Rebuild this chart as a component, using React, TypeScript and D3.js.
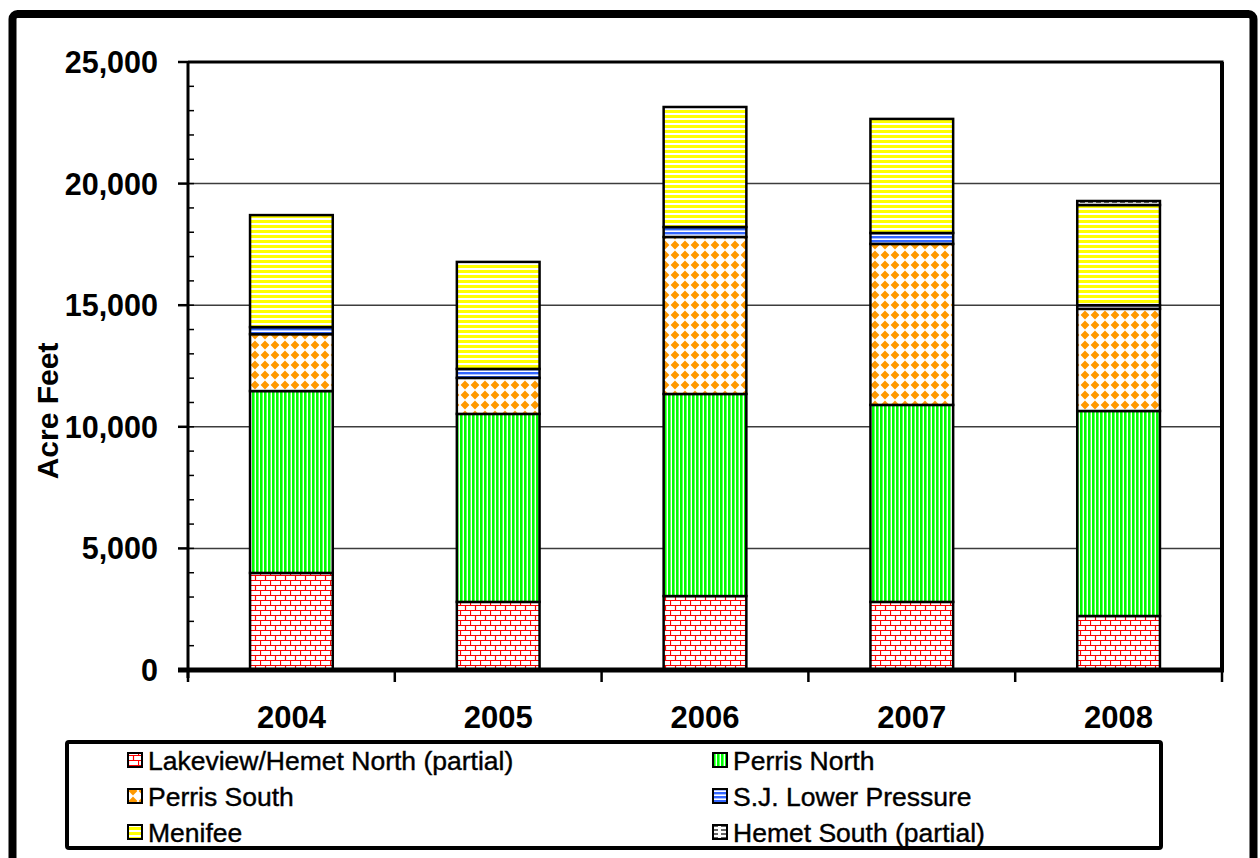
import { useEffect, useRef } from "react";
import * as d3 from "d3";

const years = ["2004", "2005", "2006", "2007", "2008"];
const lakeview = [3990, 2800, 3040, 2800, 2220];
const perrisNorth = [7480, 7730, 8310, 8100, 8430];
const perrisSouth = [2340, 1480, 6455, 6620, 4200];
const sjLower = [290, 370, 410, 450, 150];
const menifee = [4605, 4400, 4935, 4690, 4120];
const hemetSouth = [0, 0, 0, 0, 165];

const seriesNames = [
  "Lakeview/Hemet North (partial)",
  "Perris North",
  "Perris South",
  "S.J. Lower Pressure",
  "Menifee",
  "Hemet South (partial)",
];
const seriesValues = [lakeview, perrisNorth, perrisSouth, sjLower, menifee, hemetSouth];
const yTicks = [0, 5000, 10000, 15000, 20000, 25000];

const W = 1260;
const H = 858;
const FONT = "'Liberation Sans', Arial, sans-serif";

export default function App() {
  const ref = useRef<SVGSVGElement>(null);

  useEffect(() => {
    const svg = d3.select(ref.current);
    svg.selectAll("*").remove();

    const left = 188, right = 1222, top = 62, bottom = 670;
    const x = d3.scaleBand().domain(years).range([left, right]).paddingInner(0).paddingOuter(0);
    const y = d3.scaleLinear().domain([0, 25000]).range([bottom, top]);

    // patterns
    const defs = svg.append("defs");
    const pat = (id: string, w: number, h: number) =>
      defs.append("pattern").attr("id", id).attr("patternUnits", "userSpaceOnUse")
        .attr("width", w).attr("height", h);

    const brick = pat("p0", 10, 10);
    brick.append("rect").attr("width", 10).attr("height", 10).attr("fill", "#fff");
    brick.append("path").attr("d", "M0,0.5H10M0,5.5H10M0.5,0V5.5M5.5,5.5V10")
      .attr("stroke", "#ff0000").attr("stroke-width", 1.2).attr("fill", "none");

    const green = pat("p1", 4, 4);
    green.append("rect").attr("width", 4).attr("height", 4).attr("fill", "#fff");
    green.append("rect").attr("width", 2.6).attr("height", 4).attr("fill", "#00ff00");

    const orange = pat("p2", 10, 10);
    orange.append("rect").attr("width", 10).attr("height", 10).attr("fill", "#fff");
    orange.append("path").attr("d", "M5,0.6L9.4,5L5,9.4L0.6,5Z").attr("fill", "#ff9900");

    const blue = pat("p3", 4, 4);
    blue.append("rect").attr("width", 4).attr("height", 4).attr("fill", "#fff");
    blue.append("rect").attr("width", 4).attr("height", 2.4).attr("fill", "#3366ff");

    const yellow = pat("p4", 5, 5);
    yellow.append("rect").attr("width", 5).attr("height", 5).attr("fill", "#fff");
    yellow.append("rect").attr("width", 5).attr("height", 3).attr("fill", "#ffff00");

    const hs = pat("p5", 8, 4);
    hs.append("rect").attr("width", 8).attr("height", 4).attr("fill", "#fff");
    hs.append("path").attr("d", "M0,2H5").attr("stroke", "#333").attr("stroke-width", 1.5);

    // outer frame
    svg.append("rect").attr("x", 12.5).attr("y", 14).attr("width", 1241).attr("height", 880)
      .attr("rx", 5).attr("fill", "#fff").attr("stroke", "#000").attr("stroke-width", 8);

    // gridlines
    svg.append("g").selectAll("line").data(yTicks.filter((d) => d > 0 && d < 25000)).join("line")
      .attr("x1", left).attr("x2", right).attr("y1", (d) => y(d)).attr("y2", (d) => y(d))
      .attr("stroke", "#3c3c3c").attr("stroke-width", 1.5);

    // bars
    const table = years.map((yr, i) => {
      const row: any = { year: yr };
      seriesNames.forEach((s, j) => (row[s] = seriesValues[j][i]));
      return row;
    });
    const stacked = d3.stack().keys(seriesNames)(table);
    const barW = x.bandwidth() * 0.4;

    stacked.forEach((layer, j) => {
      svg.append("g").selectAll("rect").data(layer.filter((d) => d[1] - d[0] > 0)).join("rect")
        .attr("x", (d) => (x(d.data.year as any) ?? 0) + (x.bandwidth() - barW) / 2)
        .attr("width", barW)
        .attr("y", (d) => y(d[1]))
        .attr("height", (d) => y(d[0]) - y(d[1]))
        .attr("fill", `url(#p${j})`)
        .attr("stroke", "#000").attr("stroke-width", 2.5);
    });

    // plot border top / right
    svg.append("path").attr("d", `M${left},${top}H${right}V${bottom}`)
      .attr("fill", "none").attr("stroke", "#000").attr("stroke-width", 3);
    svg.append("line").attr("x1", right).attr("x2", right).attr("y1", top).attr("y2", bottom)
      .attr("stroke", "#000").attr("stroke-width", 4);

    // y axis
    const yAxis = svg.append("g");
    yAxis.append("line").attr("x1", left).attr("x2", left).attr("y1", top).attr("y2", bottom + 8)
      .attr("stroke", "#000").attr("stroke-width", 3);
    yAxis.selectAll(".minor").data(d3.range(0, 25001, 1000)).join("line")
      .attr("x1", left).attr("x2", left + 6).attr("y1", (d) => y(d)).attr("y2", (d) => y(d))
      .attr("stroke", "#000").attr("stroke-width", 1.5);
    yAxis.selectAll(".major").data(yTicks).join("line")
      .attr("x1", left - 10).attr("x2", left).attr("y1", (d) => y(d)).attr("y2", (d) => y(d))
      .attr("stroke", "#000").attr("stroke-width", 2.5);
    yAxis.selectAll("text").data(yTicks).join("text")
      .attr("x", 158).attr("y", (d) => y(d)).attr("dy", "0.36em")
      .attr("text-anchor", "end").attr("font-family", FONT).attr("font-weight", "bold")
      .attr("font-size", 30.5).text((d) => d3.format(",")(d));

    // x axis
    const xAxis = svg.append("g");
    xAxis.append("line").attr("x1", left - 10).attr("x2", right + 2).attr("y1", bottom).attr("y2", bottom)
      .attr("stroke", "#000").attr("stroke-width", 5);
    xAxis.selectAll(".tick").data(d3.range(years.length + 1)).join("line")
      .attr("x1", (i) => left + i * x.bandwidth()).attr("x2", (i) => left + i * x.bandwidth())
      .attr("y1", bottom).attr("y2", bottom + 12)
      .attr("stroke", "#000").attr("stroke-width", 2.5);
    xAxis.selectAll("text").data(years).join("text")
      .attr("x", (d) => (x(d) ?? 0) + x.bandwidth() / 2).attr("y", 728)
      .attr("text-anchor", "middle").attr("font-family", FONT).attr("font-weight", "bold")
      .attr("font-size", 31).text((d) => d);

    // y label
    svg.append("text")
      .attr("transform", "translate(58,411) rotate(-90)")
      .attr("text-anchor", "middle").attr("font-family", FONT).attr("font-weight", "bold")
      .attr("font-size", 30).text("Acre Feet");

    // legend
    const lg = svg.append("g");
    lg.append("rect").attr("x", 67).attr("y", 742).attr("width", 1094).attr("height", 106)
      .attr("rx", 2).attr("fill", "#fff").attr("stroke", "#000").attr("stroke-width", 4);
    const items = lg.selectAll("g").data(seriesNames).join("g")
      .attr("transform", (_, i) => `translate(${i % 2 === 0 ? 128 : 713},${760 + Math.floor(i / 2) * 36})`);
    items.append("rect").attr("x", 0).attr("y", -7).attr("width", 14).attr("height", 14)
      .attr("fill", (_, i) => `url(#p${i})`).attr("stroke", "#000").attr("stroke-width", 2);
    items.append("text").attr("x", 20).attr("y", 10)
      .attr("font-family", FONT).attr("font-size", 26.5)
      .attr("stroke", "#000").attr("stroke-width", 0.4).text((d) => d);
  }, []);

  return (
    <svg
      ref={ref}
      width={W}
      height={H}
      style={{ position: "absolute", left: 0, top: 0, background: "#fff" }}
    />
  );
}
